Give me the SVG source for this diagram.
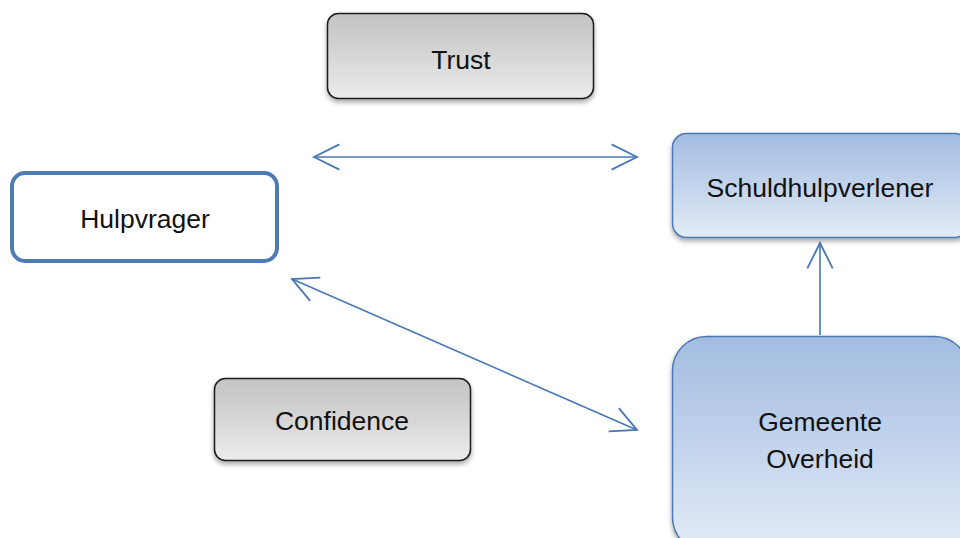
<svg xmlns="http://www.w3.org/2000/svg" width="960" height="538" viewBox="0 0 960 538">
  <style>
    .label { font-family: "Liberation Sans", Arial, sans-serif; font-size: 26.5px; fill: #111; text-anchor: middle; }
    .grey { fill: url(#greyFill); stroke: #1a1a1a; stroke-width: 1.5; filter: url(#shadow); }
    .blue { fill: url(#blueFill); stroke: #4a78b4; stroke-width: 1.5; filter: url(#shadow); }
    .plain { fill: #fff; stroke: #4f7ab3; stroke-width: 4; }
    .link { fill: none; stroke: #4a78b4; stroke-width: 1.6; }
  </style>
  <defs>
    <linearGradient id="greyFill" x1="0" y1="0" x2="0" y2="1">
      <stop offset="0" stop-color="#c3c3c3"/>
      <stop offset="0.5" stop-color="#d6d6d6"/>
      <stop offset="1" stop-color="#ececec"/>
    </linearGradient>
    <linearGradient id="blueFill" x1="0" y1="0" x2="0" y2="1">
      <stop offset="0" stop-color="#a2bce0"/>
      <stop offset="0.5" stop-color="#c2d3ec"/>
      <stop offset="1" stop-color="#e4ecf7"/>
    </linearGradient>
    <filter id="shadow" x="-10%" y="-10%" width="120%" height="130%">
      <feDropShadow dx="0" dy="3" stdDeviation="2.5" flood-color="#000" flood-opacity="0.35"/>
    </filter>
    <marker id="open" markerUnits="userSpaceOnUse" markerWidth="30" markerHeight="30" viewBox="-24 -13 26 26" refX="0" refY="0" orient="auto-start-reverse">
      <path d="M-22,-11 L0,0 L-22,11" fill="none" stroke="#4a78b4" stroke-width="1.6"/>
    </marker>
  </defs>

  <g id="connectors">
    <line class="link" x1="314" y1="157" x2="637" y2="157" marker-start="url(#open)" marker-end="url(#open)"/>
    <line class="link" x1="292" y1="279" x2="637" y2="430" marker-start="url(#open)" marker-end="url(#open)"/>
    <line class="link" x1="820" y1="335" x2="820" y2="243" marker-end="url(#open)"/>
  </g>

  <g id="trust">
    <rect class="grey" x="327.5" y="13.5" width="266" height="85" rx="11"/>
    <text class="label" x="461" y="68.5">Trust</text>
  </g>

  <g id="hulpvrager">
    <rect class="plain" x="12" y="173" width="265" height="88" rx="13"/>
    <text class="label" x="145" y="227.5">Hulpvrager</text>
  </g>

  <g id="schuldhulpverlener">
    <rect class="blue" x="672.5" y="133.5" width="296" height="104" rx="14"/>
    <text class="label" x="820" y="197">Schuldhulpverlener</text>
  </g>

  <g id="gemeente-overheid">
    <rect class="blue" x="672.5" y="336.5" width="296" height="215" rx="34"/>
    <text class="label" x="820" y="431">Gemeente</text>
    <text class="label" x="820" y="468">Overheid</text>
  </g>

  <g id="confidence">
    <rect class="grey" x="214.5" y="378.5" width="256" height="82" rx="11"/>
    <text class="label" x="342" y="430">Confidence</text>
  </g>
</svg>
